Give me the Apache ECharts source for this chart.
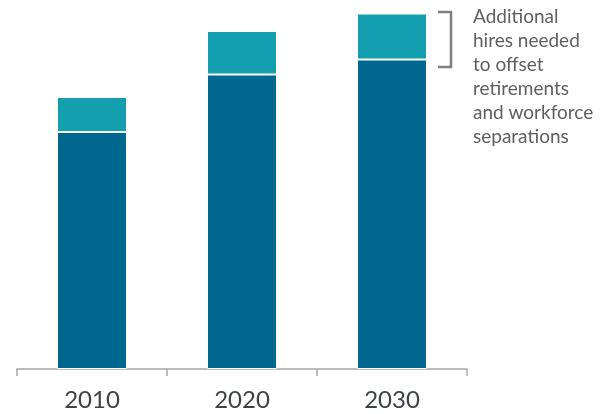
<!DOCTYPE html>
<html><head><meta charset="utf-8">
<script src="https://cdn.jsdelivr.net/npm/echarts@6/dist/echarts.min.js"></script>
<style>html,body{margin:0;padding:0;background:#fff}#c{width:613px;height:414px}</style>
</head><body><div id="c"></div>
<script>
const categories = ['2010', '2020', '2030'];
const baseWorkforce = [237, 294.5, 309.5];
const additionalHires = [35, 43.5, 46];
const noteLines = ['Additional', 'hires needed', 'to offset', 'retirements', 'and workforce', 'separations'];

const chart = echarts.init(document.getElementById('c'), null, {renderer: 'canvas'});
chart.setOption({
  animation: false,
  grid: {left: 17, right: 146, top: 9, bottom: 45},
  xAxis: {
    type: 'category', data: categories,
    axisLine: {lineStyle: {color: '#a6a6a6', width: 1.5}},
    axisTick: {show: true, length: 7, lineStyle: {color: '#a6a6a6', width: 1.5}},
    axisLabel: {color: '#3d4248', fontSize: 24, fontFamily: 'Lato', margin: 19}
  },
  yAxis: {type: 'value', min: 0, max: 360, show: false, splitLine: {show: false}},
  series: [
    {type: 'bar', stack: 'a', data: baseWorkforce, barWidth: 70,
     itemStyle: {color: '#00688E', borderColor: '#fff', borderWidth: 1}},
    {type: 'bar', stack: 'a', data: additionalHires, barWidth: 70,
     itemStyle: {color: '#139FAD', borderColor: '#fff', borderWidth: 1}}
  ],
  graphic: [
    {type: 'polyline', shape: {points: [[438, 12], [451, 12], [451, 67], [438, 67]]},
     style: {stroke: '#7f7f7f', lineWidth: 2.5, fill: null}},
    {type: 'text', left: 473, top: 5,
     style: {text: noteLines.join('\n'), fill: '#5f5f5f', font: '19px Lato', lineHeight: 24}}
  ]
});
</script></body></html>
